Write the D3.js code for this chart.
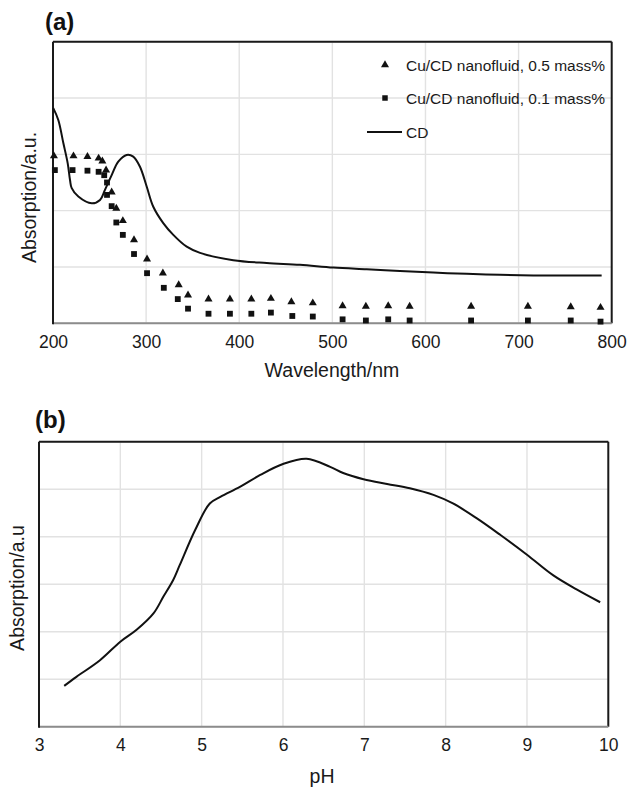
<!DOCTYPE html>
<html><head><meta charset="utf-8">
<script src="https://cdn.jsdelivr.net/npm/d3@7"></script>
<style>
html,body{margin:0;padding:0;background:#fff;}
svg{display:block;font-family:"Liberation Sans",Arial,Helvetica,sans-serif;}
</style></head>
<body>
<svg id="c" width="629" height="788"></svg>
<script>
// ---------- Panel (a) data ----------
const aXTicks = [200, 300, 400, 500, 600, 700, 800];
const aYGrid = [0, 1, 2, 3, 4, 5];
const tri05Wl = [201, 222, 237, 249, 253, 257, 263, 268, 275, 287, 301, 318, 335, 345, 367, 390, 413, 434, 456, 479, 511, 536, 560, 583, 649, 710, 756, 788];
const tri05Val = [2.97, 2.97, 2.96, 2.93, 2.88, 2.72, 2.33, 2.04, 1.82, 1.48, 1.14, 0.89, 0.68, 0.50, 0.43, 0.43, 0.43, 0.44, 0.38, 0.36, 0.31, 0.30, 0.31, 0.30, 0.30, 0.30, 0.29, 0.28];
const sq01Wl = [202, 221, 237, 249, 255, 258, 258, 263, 268, 275, 287, 301, 319, 334, 345, 367, 390, 413, 434, 457, 479, 511, 536, 560, 583, 649, 710, 756, 788];
const sq01Val = [2.72, 2.72, 2.71, 2.69, 2.63, 2.50, 2.28, 2.08, 1.79, 1.57, 1.23, 0.89, 0.63, 0.43, 0.26, 0.17, 0.17, 0.17, 0.19, 0.13, 0.12, 0.07, 0.05, 0.07, 0.05, 0.05, 0.05, 0.05, 0.03];
const cdWl = [200.3, 205.7, 211.1, 215.8, 218.3, 220.1, 227.2, 241.6, 250.5, 255.8, 263, 270.1, 279.1, 286.2, 293.4, 300.6, 307.7, 318.4, 329.2, 343.6, 357.9, 393.6, 429.5, 465.2, 501, 536.9, 572.6, 608.4, 644.3, 680, 715.8, 751.7, 789.2];
const cdVal = [3.82, 3.61, 3.20, 2.84, 2.54, 2.40, 2.25, 2.13, 2.19, 2.37, 2.63, 2.87, 2.99, 2.96, 2.78, 2.43, 2.07, 1.78, 1.57, 1.36, 1.25, 1.12, 1.07, 1.04, 0.99, 0.96, 0.93, 0.90, 0.88, 0.86, 0.85, 0.85, 0.85];
const legendLabels = ["Cu/CD nanofluid, 0.5 mass%", "Cu/CD nanofluid, 0.1 mass%", "CD"];

// ---------- Panel (b) data ----------
const bXTicks = [3, 4, 5, 6, 7, 8, 9, 10];
const bYGrid = [0, 1, 2, 3, 4, 5, 6];
const phX = [3.31, 3.46, 3.75, 4.00, 4.20, 4.41, 4.53, 4.65, 4.73, 4.92, 5.10, 5.23, 5.47, 5.72, 6.00, 6.29, 6.58, 6.74, 6.99, 7.28, 7.56, 7.85, 8.09, 8.38, 8.67, 9.00, 9.32, 9.61, 9.90];
const phVal = [0.86, 1.05, 1.40, 1.79, 2.04, 2.39, 2.74, 3.09, 3.40, 4.14, 4.70, 4.84, 5.05, 5.30, 5.53, 5.64, 5.47, 5.34, 5.21, 5.11, 5.02, 4.88, 4.70, 4.39, 4.04, 3.62, 3.19, 2.89, 2.62];

const svg = d3.select("#c");

function panel(cfg) {
  const g = svg.append("g");
  const x = cfg.x, y = cfg.y;
  const [x0, x1] = x.range();
  const [y0, y1] = y.range();
  g.append("g").selectAll("line").data(cfg.xTicks).join("line")
    .attr("x1", d => x(d)).attr("x2", d => x(d)).attr("y1", y0).attr("y2", y1)
    .attr("stroke", "#e2e2e2").attr("stroke-width", 1.4);
  g.append("g").selectAll("line").data(cfg.yGrid).join("line")
    .attr("x1", x0).attr("x2", x1).attr("y1", d => y(d)).attr("y2", d => y(d))
    .attr("stroke", "#e2e2e2").attr("stroke-width", 1.4);
  const ax = d3.axisBottom(x).tickValues(cfg.xTicks).tickSize(0).tickPadding(cfg.pad).tickFormat(d3.format("d"));
  const axg = g.append("g").attr("transform", `translate(0,${y0})`).call(ax);
  axg.select(".domain").remove();
  axg.selectAll("text").attr("font-size", 17.5).attr("fill", "#1a1a1a")
    .attr("font-family", "Liberation Sans, Arial, sans-serif");
  g.append("line").attr("x1", x0).attr("x2", x1).attr("y1", y1).attr("y2", y1).attr("stroke", "#1a1a1a").attr("stroke-width", 2);
  g.append("line").attr("x1", x1).attr("x2", x1).attr("y1", y1).attr("y2", y0).attr("stroke", "#1a1a1a").attr("stroke-width", 2);
  g.append("line").attr("x1", x0).attr("x2", x1).attr("y1", y0).attr("y2", y0).attr("stroke", "#8c8c8c").attr("stroke-width", 2);
  g.append("line").attr("x1", x0).attr("x2", x0).attr("y1", y1).attr("y2", y0 + 1).attr("stroke", "#1a1a1a").attr("stroke-width", 2);
  return g;
}

// ===== Panel (a) =====
const xA = d3.scaleLinear().domain([200, 800]).range([53, 611.7]);
const yA = d3.scaleLinear().domain([0, 5]).range([323.3, 41.7]);
const gA = panel({x: xA, y: yA, xTicks: aXTicks, yGrid: aYGrid, pad: 12});

const cdData = cdWl.map((w, i) => [w, cdVal[i]]);
gA.append("path").datum(cdData)
  .attr("d", d3.line().x(d => xA(d[0])).y(d => yA(d[1])).curve(d3.curveCatmullRom.alpha(0.5)))
  .attr("fill", "none").attr("stroke", "#111").attr("stroke-width", 2);

const triSym = d3.symbol().type(d3.symbolTriangle).size(28);
const sqSym = d3.symbol().type(d3.symbolSquare).size(34);
gA.append("g").selectAll("path").data(sq01Wl.map((w, i) => [w, sq01Val[i]])).join("path")
  .attr("d", sqSym).attr("transform", d => `translate(${xA(d[0])},${yA(d[1])})`).attr("fill", "#111");
gA.append("g").selectAll("path").data(tri05Wl.map((w, i) => [w, tri05Val[i]])).join("path")
  .attr("d", triSym).attr("transform", d => `translate(${xA(d[0])},${yA(d[1])})`).attr("fill", "#111");

const leg = gA.append("g");
const legY = [65, 98, 132];
leg.append("path").attr("d", triSym).attr("transform", `translate(385,${legY[0]})`).attr("fill", "#111");
leg.append("path").attr("d", d3.symbol().type(d3.symbolSquare).size(30)).attr("transform", `translate(385,${legY[1]})`).attr("fill", "#111");
leg.append("line").attr("x1", 367).attr("x2", 402).attr("y1", legY[2]).attr("y2", legY[2]).attr("stroke", "#111").attr("stroke-width", 2);
leg.selectAll("text").data(legendLabels).join("text")
  .attr("x", 406).attr("y", (d, i) => legY[i] + 5.5)
  .attr("font-size", 15.5).attr("fill", "#1a1a1a").text(d => d);

svg.append("text").attr("x", 45).attr("y", 30).attr("font-size", 24).attr("font-weight", "bold").attr("fill", "#111").text("(a)");
svg.append("text").attr("x", 332).attr("y", 377).attr("text-anchor", "middle").attr("font-size", 19.5).attr("fill", "#1a1a1a").text("Wavelength/nm");
svg.append("text").attr("transform", "translate(36,197.5) rotate(-90)").attr("text-anchor", "middle").attr("font-size", 19.5).attr("fill", "#1a1a1a").text("Absorption/a.u.");

// ===== Panel (b) =====
const xB = d3.scaleLinear().domain([3, 10]).range([39, 608.3]);
const yB = d3.scaleLinear().domain([0, 6]).range([726.7, 441.7]);
const gB = panel({x: xB, y: yB, xTicks: bXTicks, yGrid: bYGrid, pad: 12});

const phData = phX.map((p, i) => [p, phVal[i]]);
gB.append("path").datum(phData)
  .attr("d", d3.line().x(d => xB(d[0])).y(d => yB(d[1])).curve(d3.curveCatmullRom.alpha(0.5)))
  .attr("fill", "none").attr("stroke", "#111").attr("stroke-width", 2);

svg.append("text").attr("x", 35).attr("y", 428).attr("font-size", 24).attr("font-weight", "bold").attr("fill", "#111").text("(b)");
svg.append("text").attr("x", 322).attr("y", 783).attr("text-anchor", "middle").attr("font-size", 19.5).attr("fill", "#1a1a1a").text("pH");
svg.append("text").attr("transform", "translate(24,588) rotate(-90)").attr("text-anchor", "middle").attr("font-size", 19.5).attr("fill", "#1a1a1a").text("Absorption/a.u");
</script>
</body></html>
